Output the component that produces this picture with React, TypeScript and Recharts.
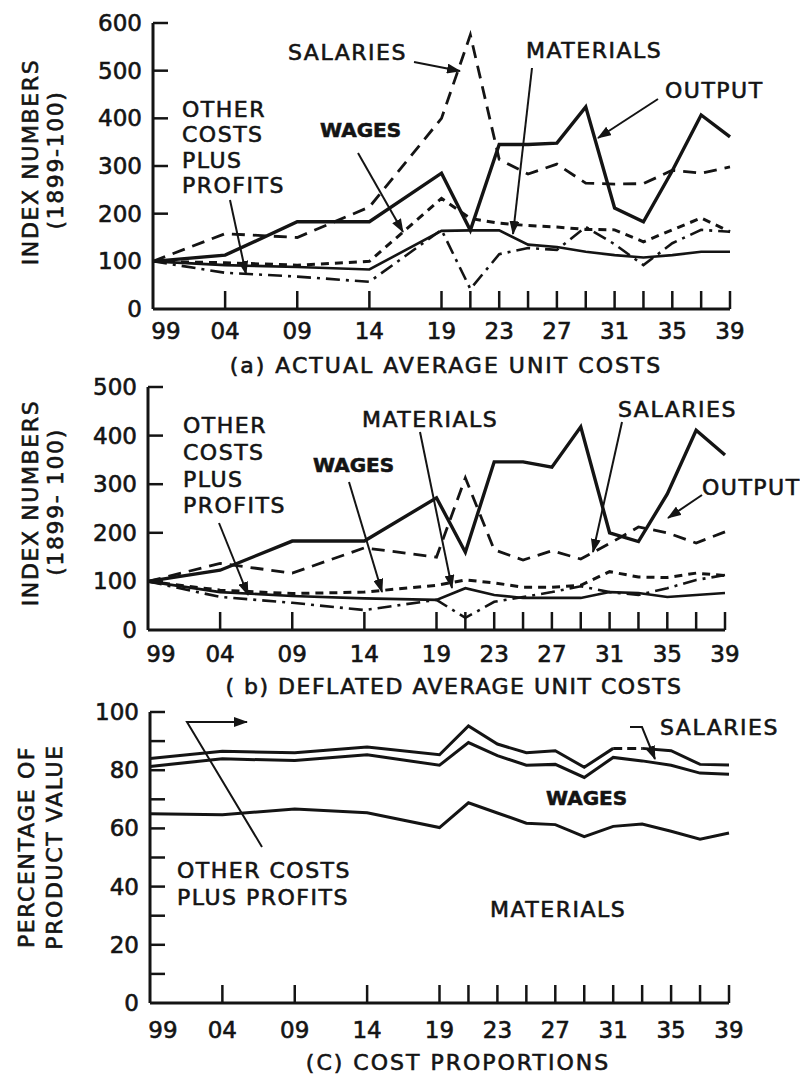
import React from "react";
import { LineChart, Line, XAxis, YAxis } from "recharts";

const FONT = "'DejaVu Sans', Verdana, sans-serif";
const INK = "#141414";

const years = [1899, 1904, 1909, 1914, 1919, 1921, 1923, 1925, 1927, 1929, 1931, 1933, 1935, 1937, 1939];
const labeledYears = [1899, 1904, 1909, 1914, 1919, 1923, 1927, 1931, 1935, 1939];

// (a) actual average unit costs, index 1899 = 100
const actualOutput = [100, 113, 183, 183, 285, 165, 345, 345, 348, 424, 212, 183, 290, 407, 361];
const actualSalaries = [100, 158, 150, 214, 400, 575, 314, 283, 304, 264, 262, 263, 291, 285, 298];
const actualMaterials = [100, 92, 88, 83, 164, 165, 165, 135, 130, 120, 113, 108, 113, 120, 120];
const actualWages = [100, 97, 92, 100, 232, 190, 180, 175, 172, 167, 166, 141, 166, 191, 162];
const actualOther = [100, 76, 68, 57, 166, 42, 115, 128, 124, 172, 136, 92, 138, 166, 162];

// (b) deflated average unit costs
const deflOutput = [100, 123, 183, 183, 272, 160, 346, 346, 335, 418, 200, 182, 280, 411, 360];
const deflSalaries = [100, 137, 117, 169, 150, 313, 165, 144, 163, 146, 178, 212, 200, 179, 202];
const deflWages = [100, 82, 75, 78, 92, 103, 97, 88, 88, 92, 120, 109, 108, 117, 112];
const deflMaterials = [100, 78, 70, 65, 62, 86, 72, 66, 66, 66, 78, 76, 68, 72, 76];
const deflOther = [100, 68, 56, 41, 62, 25, 58, 68, 78, 90, 78, 72, 86, 103, 113];

// (c) cumulative cost proportions, % of product value
const propSalaries = [84, 86.5, 86, 88, 85.3, 95.2, 89, 86, 86.7, 81, 87.5, 87.5, 86.7, 82, 81.8];
const propWages = [81.3, 83.9, 83.3, 85.3, 81.7, 89.5, 85, 81.7, 82, 77.5, 84.4, 83.2, 81.7, 79, 78.6];
const propMaterials = [65, 64.7, 66.7, 65.4, 60.3, 68.8, 65.3, 61.8, 61.3, 57.2, 60.7, 61.5, 59, 56.3, 58.4];

const ticksA = [0, 100, 200, 300, 400, 500, 600];
const ticksB = [0, 100, 200, 300, 400, 500];
const ticksC = [0, 10, 20, 30, 40, 50, 60, 70, 80, 90, 100];
const labelsC = [0, 20, 40, 60, 80, 100];

const dataA = years.map((year, i) => ({
  year,
  output: actualOutput[i],
  salaries: actualSalaries[i],
  materials: actualMaterials[i],
  wages: actualWages[i],
  other: actualOther[i],
}));

const dataB = years.map((year, i) => ({
  year,
  output: deflOutput[i],
  salaries: deflSalaries[i],
  materials: deflMaterials[i],
  wages: deflWages[i],
  other: deflOther[i],
}));

// top line of (c) is dashed between 1931 and 1933
const i31 = years.indexOf(1931);
const i33 = years.indexOf(1933);
const dataC = years.map((year, i) => ({
  year,
  salA: i <= i31 ? propSalaries[i] : null,
  salDash: i >= i31 && i <= i33 ? propSalaries[i] : null,
  salB: i >= i33 ? propSalaries[i] : null,
  wages: propWages[i],
  materials: propMaterials[i],
}));

const textInk = { fill: INK, stroke: INK, strokeWidth: 0.6 };

const yTick = (labeled: number[]) => (p: any) => {
  const { x, y, payload } = p;
  const v = payload.value;
  return (
    <g>
      {v !== 0 && <line x1={x} x2={x + 15} y1={y} y2={y} stroke={INK} strokeWidth={2.5} />}
      {labeled.includes(v) && (
        <text x={x - 11} y={y + 8} textAnchor="end" fontSize={23} fontFamily={FONT} {...textInk}>
          {v}
        </text>
      )}
    </g>
  );
};

const xTick = (dy: number) => (p: any) => {
  const { x, y, payload } = p;
  const v = payload.value;
  const lab = labeledYears.includes(v) ? String(v).slice(2) : "";
  return (
    <g>
      {v !== 1899 && <line x1={x} x2={x} y1={y} y2={y - 18} stroke={INK} strokeWidth={2.5} />}
      {lab && (
        <text x={v === 1899 ? x + 13 : x} y={y + dy} textAnchor="middle" fontSize={23} fontFamily={FONT} {...textInk}>
          {lab}
        </text>
      )}
    </g>
  );
};

const axisLine = { stroke: INK, strokeWidth: 3 };

const solid = (key: string, w: number) => (
  <Line key={key} type="linear" dataKey={key} stroke={INK} strokeWidth={w} dot={false} isAnimationActive={false} />
);
const dashed = (key: string, dash: string, w: number) => (
  <Line
    key={key}
    type="linear"
    dataKey={key}
    stroke={INK}
    strokeWidth={w}
    strokeDasharray={dash}
    dot={false}
    isAnimationActive={false}
  />
);

const Txt = ({ x, y, children, bold }: any) => (
  <text
    x={x}
    y={y}
    fontSize={bold ? 20 : 22}
    fontWeight={bold ? "bold" : "normal"}
    letterSpacing={bold ? 0 : 1.5}
    fontFamily={FONT}
    {...textInk}
  >
    {children}
  </text>
);

const Arrow = ({ pts }: { pts: number[][] }) => (
  <polyline
    points={pts.map((p) => p.join(",")).join(" ")}
    fill="none"
    stroke={INK}
    strokeWidth={2}
    markerEnd="url(#ah)"
  />
);

const VLabel = ({ x, y, children }: any) => (
  <text
    x={x}
    y={y}
    transform={`rotate(-90 ${x} ${y})`}
    textAnchor="middle"
    dominantBaseline="central"
    fontSize={22}
    letterSpacing={1.6}
    fontFamily={FONT}
    {...textInk}
  >
    {children}
  </text>
);

const Caption = ({ x, y, children, ls = 2 }: any) => (
  <text x={x} y={y} textAnchor="middle" fontSize={22} letterSpacing={ls} fontFamily={FONT} {...textInk}>
    {children}
  </text>
);

export default function App() {
  return (
    <div style={{ position: "absolute", left: 0, top: 0, width: 800, height: 1078, background: "#fff" }}>
      <div style={{ position: "absolute", left: 0, top: 0 }}>
        <LineChart width={800} height={380} data={dataA} margin={{ top: 23, right: 70, left: 93, bottom: 31 }}>
          <XAxis
            type="number"
            dataKey="year"
            domain={[1899, 1939]}
            ticks={years}
            interval={0}
            height={40}
            tickSize={0}
            tickMargin={0}
            axisLine={axisLine}
            tickLine={false}
            tick={xTick(30)}
          />
          <YAxis
            type="number"
            domain={[0, 600]}
            ticks={ticksA}
            interval={0}
            width={60}
            tickSize={0}
            tickMargin={0}
            axisLine={axisLine}
            tickLine={false}
            tick={yTick(ticksA)}
          />
          {dashed("salaries", "13 8", 2.8)}
          {dashed("wages", "8 6", 3)}
          {dashed("other", "14 6 3 6", 2.6)}
          {solid("materials", 2.6)}
          {solid("output", 3.4)}
        </LineChart>
      </div>

      <div style={{ position: "absolute", left: 0, top: 370 }}>
        <LineChart width={800} height={330} data={dataB} margin={{ top: 17, right: 75, left: 88, bottom: 30 }}>
          <XAxis
            type="number"
            dataKey="year"
            domain={[1899, 1939]}
            ticks={years}
            interval={0}
            height={40}
            tickSize={0}
            tickMargin={0}
            axisLine={axisLine}
            tickLine={false}
            tick={xTick(32)}
          />
          <YAxis
            type="number"
            domain={[0, 500]}
            ticks={ticksB}
            interval={0}
            width={60}
            tickSize={0}
            tickMargin={0}
            axisLine={axisLine}
            tickLine={false}
            tick={yTick(ticksB)}
          />
          {dashed("salaries", "13 8", 2.8)}
          {dashed("wages", "8 6", 3)}
          {dashed("other", "14 6 3 6", 2.6)}
          {solid("materials", 2.6)}
          {solid("output", 3.4)}
        </LineChart>
      </div>

      <div style={{ position: "absolute", left: 0, top: 700 }}>
        <LineChart width={800} height={378} data={dataC} margin={{ top: 12, right: 71, left: 90, bottom: 35 }}>
          <XAxis
            type="number"
            dataKey="year"
            domain={[1899, 1939]}
            ticks={years}
            interval={0}
            height={40}
            tickSize={0}
            tickMargin={0}
            axisLine={axisLine}
            tickLine={false}
            tick={xTick(35)}
          />
          <YAxis
            type="number"
            domain={[0, 100]}
            ticks={ticksC}
            interval={0}
            width={60}
            tickSize={0}
            tickMargin={0}
            axisLine={axisLine}
            tickLine={false}
            tick={yTick(labelsC)}
          />
          {solid("salA", 3)}
          {dashed("salDash", "9 5", 3)}
          {solid("salB", 3)}
          {solid("wages", 3)}
          {solid("materials", 3)}
        </LineChart>
      </div>

      <svg width={800} height={1078} style={{ position: "absolute", left: 0, top: 0, pointerEvents: "none" }}>
        <defs>
          <marker id="ah" markerWidth="14" markerHeight="10" refX="13" refY="5" orient="auto" markerUnits="userSpaceOnUse">
            <path d="M0,0 L14,5 L0,10 z" fill={INK} />
          </marker>
        </defs>

        {/* (a) */}
        <VLabel x={30} y={162}>INDEX NUMBERS</VLabel>
        <VLabel x={55} y={160}>(1899-100)</VLabel>
        <Txt x={288} y={60}>SALARIES</Txt>
        <Arrow pts={[[414, 62], [460, 71]]} />
        <Txt x={526} y={58}>MATERIALS</Txt>
        <Arrow pts={[[532, 68], [513, 234]]} />
        <Txt x={665} y={98}>OUTPUT</Txt>
        <Arrow pts={[[658, 99], [598, 138]]} />
        <Txt x={320} y={137} bold>WAGES</Txt>
        <Arrow pts={[[358, 153], [403, 232]]} />
        <Txt x={182} y={117}>OTHER</Txt>
        <Txt x={182} y={142}>COSTS</Txt>
        <Txt x={182} y={168}>PLUS</Txt>
        <Txt x={182} y={193}>PROFITS</Txt>
        <Arrow pts={[[230, 200], [246, 274]]} />
        <Caption x={446} y={373}>(a) ACTUAL AVERAGE UNIT COSTS</Caption>

        {/* (b) */}
        <VLabel x={30} y={503}>INDEX NUMBERS</VLabel>
        <VLabel x={55} y={502}>(1899- 100)</VLabel>
        <Txt x={183} y={433}>OTHER</Txt>
        <Txt x={183} y={460}>COSTS</Txt>
        <Txt x={183} y={487}>PLUS</Txt>
        <Txt x={183} y={513}>PROFITS</Txt>
        <Arrow pts={[[219, 523], [248, 595]]} />
        <Txt x={313} y={472} bold>WAGES</Txt>
        <Arrow pts={[[349, 482], [382, 592]]} />
        <Txt x={362} y={427}>MATERIALS</Txt>
        <Arrow pts={[[420, 432], [452, 588]]} />
        <Txt x={618} y={417}>SALARIES</Txt>
        <Arrow pts={[[622, 422], [593, 552]]} />
        <Txt x={702} y={495}>OUTPUT</Txt>
        <Arrow pts={[[702, 495], [668, 518]]} />
        <Caption x={454} y={694} ls={1.5}>( b) DEFLATED AVERAGE UNIT COSTS</Caption>

        {/* (c) */}
        <VLabel x={26} y={847}>PERCENTAGE OF</VLabel>
        <VLabel x={54} y={847}>PRODUCT VALUE</VLabel>
        <Txt x={177} y={878}>OTHER COSTS</Txt>
        <Txt x={177} y={905}>PLUS PROFITS</Txt>
        <Arrow pts={[[262, 847], [187, 722], [247, 722]]} />
        <Txt x={660} y={735}>SALARIES</Txt>
        <Arrow pts={[[630, 727], [642, 727], [655, 759]]} />
        <Txt x={546} y={805} bold>WAGES</Txt>
        <Txt x={490} y={917}>MATERIALS</Txt>
        <Caption x={458} y={1070}>(C) COST PROPORTIONS</Caption>
      </svg>
    </div>
  );
}
